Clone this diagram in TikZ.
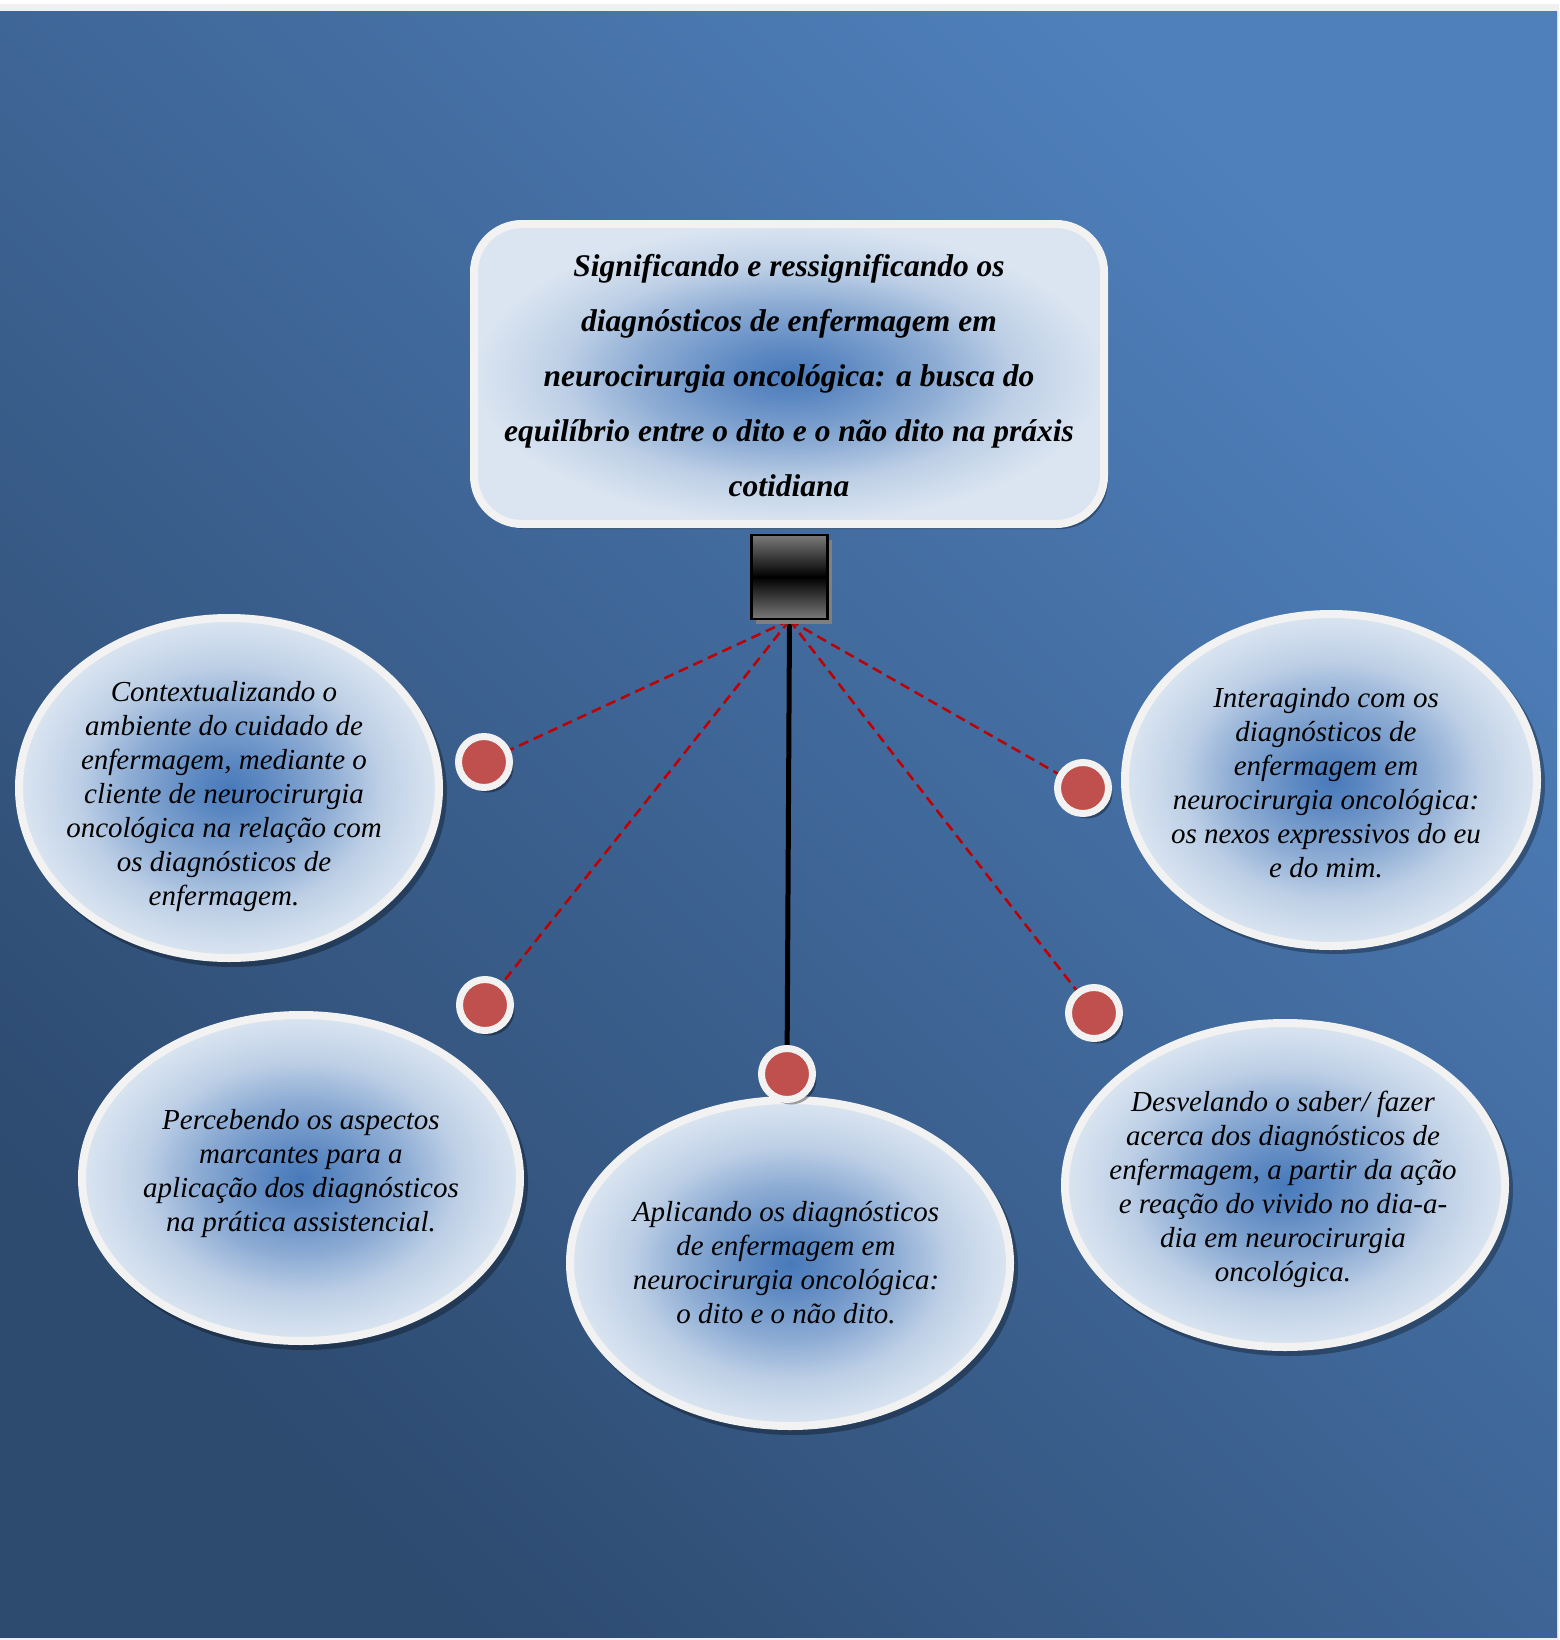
\documentclass[tikz,border=0pt]{standalone}
\usepackage{fontspec}
\setmainfont{Liberation Serif}
\usetikzlibrary{shadows}
\definecolor{bgdark}{HTML}{2D4A6F}
\definecolor{bglight}{HTML}{4F80BC}
\definecolor{pagegray}{HTML}{F0F0F0}
\definecolor{rim}{HTML}{F2F2F2}
\definecolor{blobc}{HTML}{4779BA}
\definecolor{blobo}{HTML}{DBE5F1}
\colorlet{blobm1}{blobc!82!blobo}
\colorlet{blobm2}{blobc!52!blobo}
\colorlet{blobm3}{blobc!20!blobo}
\definecolor{dotred}{HTML}{C0504D}
\definecolor{linered}{HTML}{C00000}
\definecolor{hubgray}{HTML}{7A7A7A}
\pgfdeclareradialshading{blob}{\pgfpoint{0bp}{0bp}}{color(0bp)=(blobc); color(5bp)=(blobm1); color(12bp)=(blobm2); color(18bp)=(blobm3); color(25bp)=(blobo); color(50bp)=(blobo)}
\pgfdeclarelayer{back}
\pgfdeclarelayer{edges}
\pgfsetlayers{back,edges,main}
\begin{document}
\begin{tikzpicture}[x=1pt,y=-1pt,
  rimline/.style={draw=rim, line width=8pt},
  shadowfill/.style={fill=black, fill opacity=0.3},
  etext/.style={align=center, inner sep=0pt, font=\fontsize{29}{34}\selectfont\itshape},
  ttext/.style={align=center, inner sep=0pt, font=\fontsize{31.5}{55}\selectfont\bfseries\itshape},
  dotnode/.style={circle, fill=dotred, draw=rim, line width=7pt, minimum size=51pt, inner sep=0pt,
     drop shadow={shadow xshift=4pt, shadow yshift=-5pt, fill=black, opacity=0.35}},
  dashline/.style={draw=linered, line width=2.5pt, dash pattern=on 10pt off 6pt},
  stem/.style={draw=black, line width=5pt},
  hub/.style={rectangle, draw=black, line width=2.5pt, minimum width=76pt, minimum height=84pt, inner sep=0pt,
     top color=hubgray, bottom color=hubgray, middle color=black,
     drop shadow={shadow xshift=4pt, shadow yshift=-5pt, fill=black!50, opacity=1}}
]
\useasboundingbox (0,0) rectangle (1559,1640);
\begin{pgfonlayer}{back}
  \fill[pagegray] (0,0) rectangle (1559,1640);
  \fill[white] (0,0) rectangle (1559,4);
  \shade[top color=bglight, bottom color=bgdark, shading angle=-45] (0,12) rectangle (1557,1637);
  % title box
  \fill[shadowfill, rounded corners=48pt] (478,229) rectangle (1108,529);
  \shadedraw[shading=blob, rimline, rounded corners=48pt] (474,224) rectangle (1104,524);
  % ellipses
  \fill[shadowfill] (233,793) ellipse [x radius=214pt, y radius=174pt];
  \shadedraw[shading=blob, rimline] (229,788) ellipse [x radius=210pt, y radius=170pt];
  \fill[shadowfill] (1335,784) ellipse [x radius=210pt, y radius=170pt];
  \shadedraw[shading=blob, rimline] (1331,780) ellipse [x radius=206pt, y radius=166pt];
  \fill[shadowfill] (305,1183) ellipse [x radius=223pt, y radius=167pt];
  \shadedraw[shading=blob, rimline] (301,1178) ellipse [x radius=219pt, y radius=163pt];
  \fill[shadowfill] (794,1268) ellipse [x radius=224pt, y radius=167pt];
  \shadedraw[shading=blob, rimline] (790,1263) ellipse [x radius=220pt, y radius=163pt];
  \fill[shadowfill] (1289,1190) ellipse [x radius=224pt, y radius=166pt];
  \shadedraw[shading=blob, rimline] (1285,1185) ellipse [x radius=220pt, y radius=162pt];
\end{pgfonlayer}

% hub and dots
\node[hub] (sq) at (789.5,577) {};
\node[dotnode] (d1) at (484,762) {};
\node[dotnode] (d2) at (485,1005) {};
\node[dotnode] (d3) at (787,1074) {};
\node[dotnode] (d4) at (1083,788) {};
\node[dotnode] (d5) at (1094,1013) {};

\begin{pgfonlayer}{edges}
  \draw[stem] (sq.south) -- (d3);
  \draw[dashline] (sq.south) -- (d1);
  \draw[dashline] (sq.south) -- (d2);
  \draw[dashline] (sq.south) -- (d4);
  \draw[dashline] (sq.south) -- (d5);
\end{pgfonlayer}

% texts
\node[ttext] (title) at (789,376) {Significando e ressignificando os\\diagnósticos de enfermagem em\\neurocirurgia oncológica: a busca do\\equilíbrio entre o dito e o não dito na práxis\\cotidiana};
\node[etext] (e1) at (224,797) {Contextualizando o\\ambiente do cuidado de\\enfermagem, mediante o\\cliente de neurocirurgia\\oncológica na relação com\\os diagnósticos de\\enfermagem.};
\node[etext] (e2) at (1326,783) {Interagindo com os\\diagnósticos de\\enfermagem em\\neurocirurgia oncológica:\\os nexos expressivos do eu\\e do mim.};
\node[etext] (e3) at (301,1174) {Percebendo os aspectos\\marcantes para a\\aplicação dos diagnósticos\\na prática assistencial.};
\node[etext] (e4) at (786,1263) {Aplicando os diagnósticos\\de enfermagem em\\neurocirurgia oncológica:\\o dito e o não dito.};
\node[etext] (e5) at (1283,1189) {Desvelando o saber/ fazer\\acerca dos diagnósticos de\\enfermagem, a partir da ação\\e reação do vivido no dia-a-\\dia em neurocirurgia\\oncológica.};
\end{tikzpicture}
\end{document}
